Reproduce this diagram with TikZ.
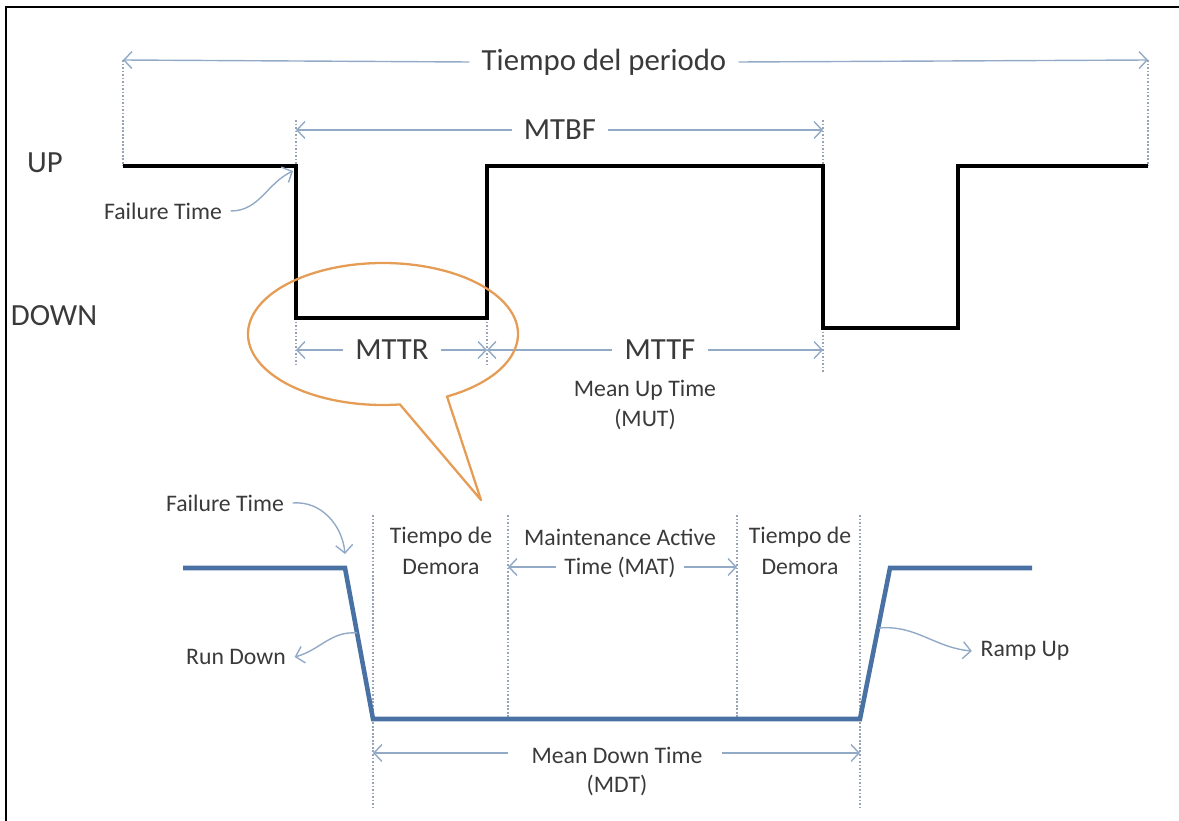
\documentclass[tikz,border=0pt]{standalone}
\usepackage{fontspec}
\setmainfont{Carlito}
\usetikzlibrary{positioning}
\usetikzlibrary{arrows.meta}
\pgfdeclarelayer{background}
\pgfdeclarelayer{foreground}
\pgfsetlayers{background,main,foreground}
\definecolor{dimblue}{HTML}{93AAC6}
\definecolor{guidegray}{HTML}{98A4B6}
\definecolor{bubbleorange}{HTML}{E59C55}
\definecolor{waveblue}{HTML}{4A71A4}
\definecolor{labelgray}{HTML}{3A3A3A}

\begin{document}
\begin{tikzpicture}[x=0.2mm, y=-0.2mm,
					bigtext/.style={font=\fontsize{17.5}{19}\selectfont, text=labelgray, inner sep=2pt, outer sep=5pt},
					smalltext/.style={font=\fontsize{13.5}{15}\selectfont, text=labelgray, inner sep=1pt, outer sep=4pt},
					dimarrow/.style={draw=dimblue, line width=0.8pt, -{Straight Barb[length=1.6mm,width=3.4mm]}},
					guide/.style={draw=guidegray, densely dotted, line width=1pt},
					blackwave/.style={draw=black, line width=2.4pt, line join=miter},
					bluewave/.style={draw=waveblue, line width=2.6pt, line join=miter},
					bubble/.style={draw=bubbleorange, line width=1.3pt, line join=round},
					]
					\useasboundingbox (0,0) rectangle (1179,821);
					\draw[line width=1.3pt] (6,821) -- (6,7) -- (1179,7);
					
					%Coordinates
					\coordinate (a0) at (123,166);
					\coordinate (a1) at (296,166);
					\coordinate (a2) at (296,318);
					\coordinate (a3) at (487,318);
					\coordinate (a4) at (487,166);
					\coordinate (a5) at (823,166);
					\coordinate (a6) at (823,328);
					\coordinate (a7) at (958,328);
					\coordinate (a8) at (958,166);
					\coordinate (a9) at (1148,166);
					\coordinate (p0) at (123,60);
					\coordinate (p1) at (1148,60);
					\coordinate (m0) at (296,130);
					\coordinate (m1) at (823,130);
					\coordinate (m0t) at (296,120);
					\coordinate (m1t) at (823,120);
					\coordinate (r0) at (296,350);
					\coordinate (r1) at (487,350);
					\coordinate (f1) at (823,350);
					\coordinate (r0b) at (296,366);
					\coordinate (r1b) at (487,366);
					\coordinate (f1b) at (823,372);
					\coordinate (b0) at (183,568);
					\coordinate (b1) at (345,568);
					\coordinate (b2) at (373,719);
					\coordinate (b3) at (860,719);
					\coordinate (b4) at (890,568);
					\coordinate (b5) at (1032,568);
					\coordinate (g0t) at (373,515);
					\coordinate (g0b) at (373,808);
					\coordinate (g1t) at (508,515);
					\coordinate (g1b) at (508,719);
					\coordinate (g2t) at (737,515);
					\coordinate (g2b) at (737,719);
					\coordinate (g3t) at (860,515);
					\coordinate (g3b) at (860,808);
					\coordinate (d0) at (508,567);
					\coordinate (d1) at (737,567);
					\coordinate (w0) at (373,753);
					\coordinate (w1) at (860,753);
					\coordinate (w0s) at (508,753);
					\coordinate (w1s) at (722,753);
					\coordinate (rd) at (357,633);
					\coordinate (ru) at (879,628);
					\coordinate (fa) at (293,171);
					\coordinate (fb) at (345,554);
					\coordinate (bc) at (383,334);
					\coordinate (tip) at (481,500);
					
					%Nodes
					\node[bigtext]        (up)      at (45,163)      {UP};
					\node[bigtext]        (down)    at (54,316)      {DOWN};
					\node[bigtext]        (periodo) at (604,62)      {Tiempo del periodo};
					\node[bigtext]        (mtbf)    at (560,130)     {MTBF};
					\node[bigtext]        (mttr)    at (392,350)     {MTTR};
					\node[bigtext]        (mttf)    at (660,350)     {MTTF};
					\node[smalltext]      (mut1)    at (645,390)     {Mean Up Time};
					\node[smalltext]      (mut2)    at (645,419)     {(MUT)};
					\node[smalltext]      (fail1)   at (163,211)     {Failure Time};
					\node[smalltext]      (fail2)   at (225,503)     {Failure Time};
					\node[smalltext]      (demora1) at (441,537)     {Tiempo de};
					\node[smalltext]      (demora2) at (441,567)     {Demora};
					\node[smalltext]      (mat1)    at (620,537)     {Maintenance Active};
					\node[smalltext]      (mat2)    at (620,567)     {Time (MAT)};
					\node[smalltext]      (demora3) at (800,537)     {Tiempo de};
					\node[smalltext]      (demora4) at (800,567)     {Demora};
					\node[smalltext]      (run)     at (236,657)     {Run Down};
					\node[smalltext]      (ramp)    at (1025,651)    {Ramp Up};
					\node[smalltext]      (mdt1)    at (617,755)     {Mean Down Time};
					\node[smalltext]      (mdt2)    at (617,785)     {(MDT)};
					
					\begin{pgfonlayer}{background}
					%Guides
					\draw[guide] (p0) -- (a0);
					\draw[guide] (p1) -- (a9);
					\draw[guide] (m0t) -- (a1);
					\draw[guide] (m1t) -- (a5);
					\draw[guide] (a2) -- (r0b);
					\draw[guide] (a3) -- (r1b);
					\draw[guide] (a6) -- (f1b);
					\draw[guide] (g0t) -- (g0b);
					\draw[guide] (g1t) -- (g1b);
					\draw[guide] (g2t) -- (g2b);
					\draw[guide] (g3t) -- (g3b);
					\end{pgfonlayer}
					
					%Waves
					\draw[blackwave] (a0) -- (a1) -- (a2) -- (a3) -- (a4) -- (a5) -- (a6) -- (a7) -- (a8) -- (a9);
					\draw[bluewave] (b0) -- (b1) -- (b2) -- (b3) -- (b4) -- (b5);
					
					%Lines
					\draw[dimarrow] (periodo.west) -- (p0);
					\draw[dimarrow] (periodo.east) -- (p1);
					\draw[dimarrow] (mtbf.west) -- (m0);
					\draw[dimarrow] (mtbf.east) -- (m1);
					\draw[dimarrow] (mttr.west) -- (r0);
					\draw[dimarrow] (mttr.east) -- (r1);
					\draw[dimarrow] (mttf.west) -- (r1);
					\draw[dimarrow] (mttf.east) -- (f1);
					\draw[dimarrow] (mat2.west) -- (d0);
					\draw[dimarrow] (mat2.east) -- (d1);
					\draw[dimarrow] (w0s) -- (w0);
					\draw[dimarrow] (w1s) -- (w1);
					\draw[dimarrow] (fail1.east) to[out=0, in=205] (fa);
					\draw[dimarrow] (fail2.east) to[out=5, in=95] (fb);
					\draw[dimarrow] (rd) to[out=175, in=15] (run.east);
					\draw[dimarrow] (ru) to[out=5, in=175] (ramp.west);
					
					%Bubble
					\draw[bubble] ([shift={(61.7:135 and 71)}]bc) arc[start angle=61.7, end angle=-277.2, x radius=135, y radius=71] -- (tip) -- cycle;
				\end{tikzpicture}
\end{document}
